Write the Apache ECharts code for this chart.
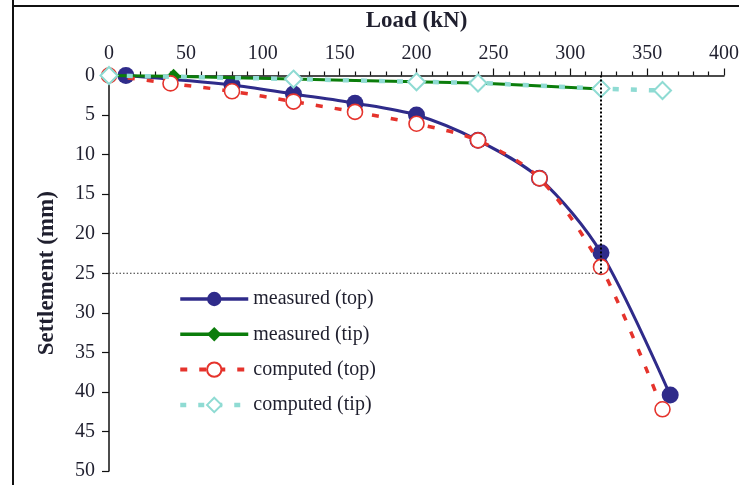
<!DOCTYPE html>
<html>
<head>
<meta charset="utf-8">
<script src="https://cdn.jsdelivr.net/npm/echarts@6/dist/echarts.min.js"></script>
<style>
html,body{margin:0;padding:0;background:#fff;}
#chart{width:739px;height:485px;}
</style>
</head>
<body>
<div id="chart"></div>
<script>
// ---- data ----
const seriesNames = ['measured (top)', 'measured (tip)', 'computed (top)', 'computed (tip)'];
const measuredTopLoad = [11, 80, 120, 160, 200, 240, 280, 320, 365];
const measuredTopSettle = [0, 1.2, 2.35, 3.5, 5.0, 8.2, 13.0, 22.4, 40.4];
const measuredTipLoad = [0, 42, 120, 200, 240, 320];
const measuredTipSettle = [0, 0.1, 0.45, 0.8, 0.95, 1.7];
const computedTopLoad = [0, 40, 80, 120, 160, 200, 240, 280, 320, 360];
const computedTopSettle = [0, 1.0, 2.0, 3.3, 4.6, 6.1, 8.2, 13.0, 24.2, 42.2];
const computedTipLoad = [0, 120, 200, 240, 320, 360];
const computedTipSettle = [0, 0.45, 0.8, 0.95, 1.65, 1.9];
const guideLoad = 320;
const guideSettle = 25;
const xTicks = [0, 50, 100, 150, 200, 250, 300, 350, 400];
const yTicks = [0, 5, 10, 15, 20, 25, 30, 35, 40, 45, 50];

function pairs(xs, ys){ return xs.map((x,i)=>[x, ys[i]]); }

const chart = echarts.init(document.getElementById('chart'), null, {renderer:'canvas'});
const serif = '"Liberation Serif", "DejaVu Serif", serif';
const textColor = '#1f1f2e';
const colors = ['#2f2b8a', '#0b7d0b', '#e5332c', '#8fdbd3'];

const option = {
  animation:false,
  backgroundColor:'#fff',
  grid:{left:109, top:75.5, right:15, bottom:14, containLabel:false, outerBoundsMode:'none'},
  xAxis:{
    type:'value', position:'top',
    min:xTicks[0], max:xTicks[xTicks.length-1], interval:xTicks[1]-xTicks[0],
    name:'Load (kN)', nameLocation:'middle', nameGap:43,
    nameTextStyle:{fontFamily:serif, fontWeight:'bold', fontSize:23, color:textColor},
    axisLine:{show:true, lineStyle:{color:'#111', width:1.5}},
    axisTick:{show:true, inside:false, length:7, lineStyle:{color:'#111', width:1.2}},
    minorTick:{show:true, splitNumber:5, length:4, lineStyle:{color:'#111', width:1.2}},
    axisLabel:{fontFamily:serif, fontSize:20, color:textColor, margin:12},
    splitLine:{show:false}
  },
  yAxis:{
    type:'value', inverse:true,
    min:yTicks[0], max:yTicks[yTicks.length-1], interval:yTicks[1]-yTicks[0],
    name:'Settlement (mm)', nameLocation:'middle', nameGap:50, nameRotate:90,
    nameTextStyle:{fontFamily:serif, fontWeight:'bold', fontSize:23, color:textColor},
    axisLine:{show:true, lineStyle:{color:'#111', width:1.5}},
    axisTick:{show:true, inside:false, length:7, lineStyle:{color:'#111', width:1.2}},
    axisLabel:{fontFamily:serif, fontSize:20, color:textColor, margin:14},
    splitLine:{show:false}
  },
  legend:{
    orient:'vertical', left:173, top:284,
    itemWidth:68, itemHeight:18, itemGap:15.3,
    data:[
      {name:seriesNames[0], lineStyle:{width:3.5}},
      {name:seriesNames[1], lineStyle:{width:3.5}},
      {name:seriesNames[2], lineStyle:{width:4}},
      {name:seriesNames[3], lineStyle:{width:4.5}}
    ],
    textStyle:{fontFamily:serif, fontSize:20, color:textColor}
  },
  graphic:[
    {type:'line', shape:{x1:13, y1:0, x2:13, y2:485}, style:{stroke:'#111', lineWidth:2}, silent:true},
    {type:'line', shape:{x1:12, y1:6, x2:739, y2:6}, style:{stroke:'#111', lineWidth:2}, silent:true}
  ],
  series:[
    {name:seriesNames[0], type:'line', smooth:0.3, data:pairs(measuredTopLoad, measuredTopSettle),
      symbol:'circle', symbolSize:17, color:colors[0],
      itemStyle:{color:colors[0]}, lineStyle:{color:colors[0], width:3}, z:2},
    {name:seriesNames[1], type:'line', smooth:0.3, data:pairs(measuredTipLoad, measuredTipSettle),
      symbol:'diamond', symbolSize:15, color:colors[1],
      itemStyle:{color:colors[1]}, lineStyle:{color:colors[1], width:3}, z:3},
    {name:seriesNames[2], type:'line', smooth:0.3, data:pairs(computedTopLoad, computedTopSettle),
      symbol:'circle', symbolSize:15, showAllSymbol:true, color:colors[2],
      itemStyle:{color:'#fff', borderColor:colors[2], borderWidth:1.6},
      lineStyle:{color:colors[2], width:3.5, type:[7,12]}, z:4},
    {name:seriesNames[3], type:'line', smooth:0.3, data:pairs(computedTipLoad, computedTipSettle),
      symbol:'diamond', symbolSize:17, color:colors[3],
      itemStyle:{color:'#fff', borderColor:colors[3], borderWidth:2},
      lineStyle:{color:colors[3], width:4.5, type:[6,12]}, z:5},
    {name:'guideV', type:'line', data:[[guideLoad,0],[guideLoad,guideSettle]], symbol:'none',
      lineStyle:{color:'#000', width:2, type:[2,2]}, z:10, silent:true},
    {name:'guideH', type:'line', data:[[0,guideSettle],[guideLoad,guideSettle]], symbol:'none',
      lineStyle:{color:'#333', width:1, type:[1.5,2]}, z:10, silent:true}
  ]
};
chart.setOption(option);
</script>
</body>
</html>
